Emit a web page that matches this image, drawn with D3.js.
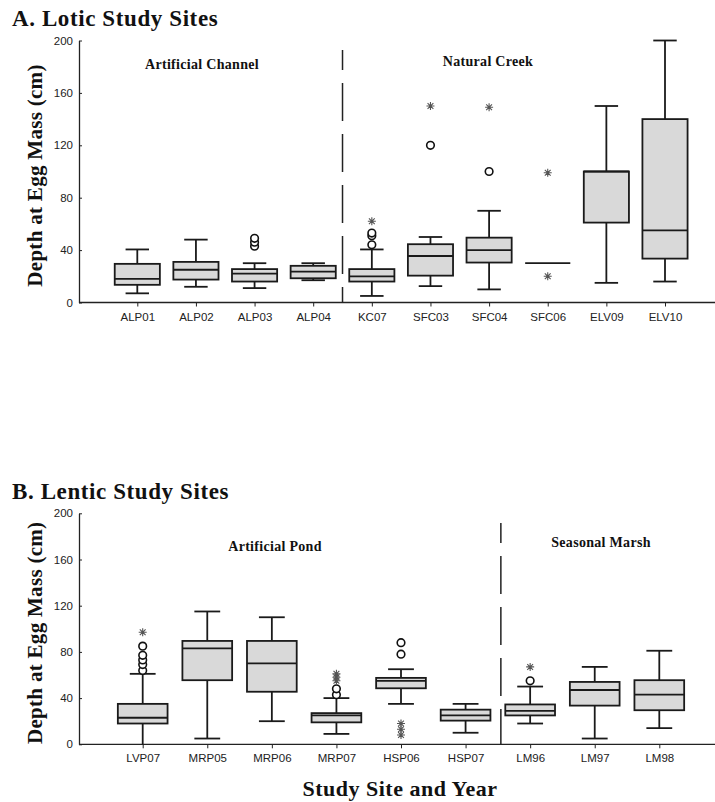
<!DOCTYPE html>
<html>
<head>
<meta charset="utf-8">
<script src="https://cdn.jsdelivr.net/npm/d3@7"></script>
<style>
  body { margin: 0; background: #ffffff; }
  svg { display: block; }
</style>
</head>
<body>
<main><svg></svg></main>
<script>
// Panel A (lotic sites) values
let lotCats = ['ALP01', 'ALP02', 'ALP03', 'ALP04', 'KC07', 'SFC03', 'SFC04', 'SFC06', 'ELV09', 'ELV10'];
let lotLo   = [7, 12, 11, 17, 5, 12.5, 10, 30, 15, 16];
let lotQ1   = [13.5, 17.5, 16, 18.5, 16, 20.5, 30.5, 30, 61, 33.5];
let lotMed  = [18, 25, 22, 23.5, 20, 35.5, 40, 30, 100, 55];
let lotQ3   = [29.5, 31, 25.5, 28, 25.5, 44.5, 49.5, 30, 100, 140];
let lotHi   = [40.5, 48, 30, 30, 40.5, 50, 70, 30, 150, 200];
let lotCircles = [[], [], [43, 46, 49], [], [44, 51, 53], [120], [100], [], [], []];
let lotStars   = [[], [], [], [], [62], [150], [149], [99, 20], [], []];

// Panel B (lentic sites) values
let lenCats = ['LVP07', 'MRP05', 'MRP06', 'MRP07', 'HSP06', 'HSP07', 'LM96', 'LM97', 'LM98'];
let lenLo   = [0, 5, 20, 9, 35, 10, 18, 5, 14];
let lenQ1   = [18, 55.5, 45.5, 19, 48.5, 20.5, 25, 33.5, 29.5];
let lenMed  = [23, 83, 70, 25, 55, 25, 29, 47, 43];
let lenQ3   = [35, 89.5, 89.5, 27, 57.5, 30, 34.5, 54, 55.5];
let lenHi   = [61, 115, 110, 40, 65, 35, 50, 67, 81];
let lenCircles = [[64, 69, 73, 77, 85], [], [], [43, 48], [78, 88], [], [55], [], []];
let lenStars   = [[97], [], [], [55, 58, 61], [8, 13, 18], [], [67], [], []];

// Shared axis ticks
let yTicks = [0, 40, 80, 120, 160, 200];

// SVG dimensions
let width = 715, height = 802;
let svg = d3.select('svg').attr('width', width).attr('height', height);

let serif = '"Liberation Serif", "Times New Roman", serif';
let sans = '"Liberation Sans", Arial, sans-serif';

// Build the rows for one panel out of the arrays
function makeRows(cats, lo, q1, med, q3, hi, circles, stars) {
    return cats.map((c, i) => {
        return { cat: c, lo: lo[i], q1: q1[i], med: med[i], q3: q3[i], hi: hi[i],
                 circles: circles[i], stars: stars[i] };
    });
}

// Draw one box plot panel
function drawPanel(p) {
    let g = svg.append('g');

    let y = d3.scaleLinear().domain([0, 200]).range([p.y0, p.y1]);
    let x = d3.scalePoint().domain(p.rows.map((d) => d.cat)).range([p.x0, p.x1]);
    let step = x.step();
    let boxW = step * 0.77, capW = step * 0.4;

    // title
    g.append('text')
        .attr('x', 12).attr('y', p.titleY)
        .attr('font-family', serif).attr('font-weight', 'bold')
        .attr('font-size', 23).attr('letter-spacing', 0.6).attr('fill', '#111')
        .text(p.title);

    // y axis
    let yAxis = d3.axisLeft(y).tickValues(yTicks).tickSize(-3).tickSizeOuter(0).tickPadding(6);
    let ya = g.append('g').attr('transform', `translate(${p.axisX}, 0)`).call(yAxis);
    ya.select('.domain').attr('stroke', '#222').attr('stroke-width', 1.3);
    ya.selectAll('.tick line').attr('stroke', '#222');
    ya.selectAll('text').attr('font-family', sans).attr('font-size', 11.5).attr('fill', '#222');

    // x axis
    let xAxis = d3.axisBottom(x).tickSize(4).tickSizeOuter(0).tickPadding(6);
    let xa = g.append('g').attr('transform', `translate(0, ${p.y0})`).call(xAxis);
    xa.select('.domain').remove();
    xa.selectAll('.tick line').attr('stroke', '#222');
    xa.selectAll('text').attr('font-family', sans).attr('font-size', 11.5).attr('fill', '#222');
    g.append('line')
        .attr('x1', p.axisX).attr('x2', width)
        .attr('y1', y(0)).attr('y2', y(0))
        .attr('stroke', '#222').attr('stroke-width', 1.3);

    // y label
    g.append('text')
        .attr('transform', `translate(42, ${(p.y0 + p.y1) / 2 + 4}) rotate(-90)`)
        .attr('text-anchor', 'middle')
        .attr('font-family', serif).attr('font-weight', 'bold')
        .attr('font-size', 21).attr('letter-spacing', 0.3).attr('fill', '#111')
        .text('Depth at Egg Mass (cm)');

    // dashed divider between site types
    let divX = (x(p.rows[p.split - 1].cat) + x(p.rows[p.split].cat)) / 2 + p.divShift;
    g.append('line')
        .attr('x1', divX).attr('x2', divX)
        .attr('y1', p.divTop).attr('y2', y(0))
        .attr('stroke', '#222').attr('stroke-width', 1.5)
        .attr('stroke-dasharray', '38,13').attr('stroke-dashoffset', 18);

    // group labels
    p.groups.forEach((gr) => {
        g.append('text')
            .attr('x', gr.x).attr('y', gr.y)
            .attr('text-anchor', 'middle')
            .attr('font-family', serif).attr('font-weight', 'bold')
            .attr('font-size', 14).attr('letter-spacing', 0.3).attr('fill', '#111')
            .text(gr.label);
    });

    let boxes = g.selectAll('.box').data(p.rows).enter().append('g')
        .attr('class', 'box')
        .attr('transform', (d) => `translate(${x(d.cat)}, 0)`);

    // whiskers
    boxes.append('line')
        .attr('x1', 0).attr('x2', 0)
        .attr('y1', (d) => y(d.hi)).attr('y2', (d) => y(d.lo))
        .attr('stroke', '#1a1a1a').attr('stroke-width', 1.8);
    boxes.append('line')
        .attr('x1', -capW / 2).attr('x2', capW / 2)
        .attr('y1', (d) => y(d.hi)).attr('y2', (d) => y(d.hi))
        .attr('stroke', '#1a1a1a').attr('stroke-width', 1.8)
        .attr('display', (d) => d.hi === d.q3 ? 'none' : null);
    boxes.append('line')
        .attr('x1', -capW / 2).attr('x2', capW / 2)
        .attr('y1', (d) => y(d.lo)).attr('y2', (d) => y(d.lo))
        .attr('stroke', '#1a1a1a').attr('stroke-width', 1.8)
        .attr('display', (d) => (d.lo === d.q1 || d.lo === 0) ? 'none' : null);

    // boxes
    boxes.append('rect')
        .attr('x', -boxW / 2).attr('width', boxW)
        .attr('y', (d) => y(d.q3))
        .attr('height', (d) => y(d.q1) - y(d.q3))
        .attr('fill', '#d9d9d9')
        .attr('stroke', '#1a1a1a').attr('stroke-width', 1.8);
    boxes.append('line')
        .attr('x1', -boxW / 2).attr('x2', boxW / 2)
        .attr('y1', (d) => y(d.med)).attr('y2', (d) => y(d.med))
        .attr('stroke', '#1a1a1a').attr('stroke-width', 1.8);

    // open circle outliers
    boxes.selectAll('circle').data((d) => d.circles).enter().append('circle')
        .attr('cx', 0).attr('cy', (v) => y(v)).attr('r', 3.8)
        .attr('fill', '#fff').attr('stroke', '#111').attr('stroke-width', 1.6);

    // asterisk extremes
    let star = 'M-4,0H4M0,-4V4M-2.9,-2.9L2.9,2.9M-2.9,2.9L2.9,-2.9';
    boxes.selectAll('.star').data((d) => d.stars).enter().append('path')
        .attr('class', 'star')
        .attr('transform', (v) => `translate(0, ${y(v)})`)
        .attr('d', star)
        .attr('fill', 'none').attr('stroke', '#555').attr('stroke-width', 1.1);
}

drawPanel({
    title: 'A. Lotic Study Sites', titleY: 26,
    rows: makeRows(lotCats, lotLo, lotQ1, lotMed, lotQ3, lotHi, lotCircles, lotStars),
    y0: 302.5, y1: 40.5, x0: 137.3, x1: 665, axisX: 79,
    split: 4, divShift: 0, divTop: 50,
    groups: [{ label: 'Artificial Channel', x: 202, y: 69 }, { label: 'Natural Creek', x: 488, y: 66 }]
});

drawPanel({
    title: 'B. Lentic Study Sites', titleY: 499,
    rows: makeRows(lenCats, lenLo, lenQ1, lenMed, lenQ3, lenHi, lenCircles, lenStars),
    y0: 744.3, y1: 513.3, x0: 142.7, x1: 659.3, axisX: 79,
    split: 6, divShift: 3, divTop: 523,
    groups: [{ label: 'Artificial Pond', x: 275, y: 551 }, { label: 'Seasonal Marsh', x: 601, y: 547 }]
});

// shared x label
svg.append('text')
    .attr('x', 400).attr('y', 796)
    .attr('text-anchor', 'middle')
    .attr('font-family', serif).attr('font-weight', 'bold')
    .attr('font-size', 22).attr('letter-spacing', 0.5).attr('fill', '#111')
    .text('Study Site and Year');
</script>
</body>
</html>
